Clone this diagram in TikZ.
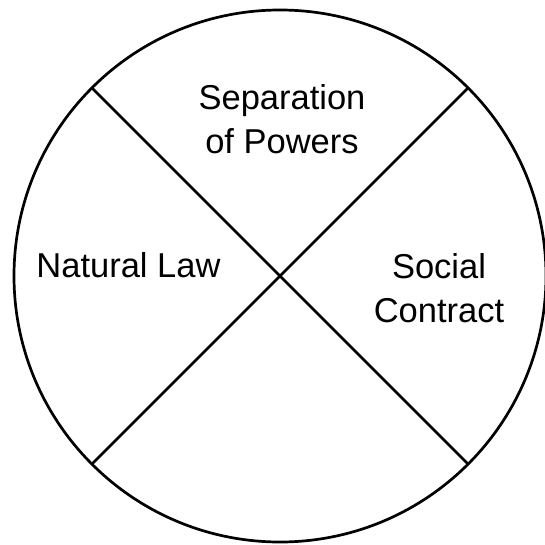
\documentclass[tikz,border=0pt]{standalone}
\usepackage{fontspec}
\setmainfont{Liberation Sans}
\begin{document}
\begin{tikzpicture}[x=1pt,y=-1pt,
  outline/.style={line width=2.7pt,black},
  lbl/.style={font=\fontsize{34.5}{44}\selectfont,align=center,inner sep=0pt,anchor=base}]
\useasboundingbox (0,0) rectangle (545,545);
\coordinate (c) at (280,276);
\draw[outline] (c) circle[radius=266];
\path (c) ++(-188.1,-188.1) coordinate (ul)
      (c) ++(188.1,-188.1) coordinate (ur)
      (c) ++(-188.1,188.1) coordinate (ll)
      (c) ++(188.1,188.1) coordinate (lr);
\draw[outline] (ul) -- (lr);
\draw[outline] (ur) -- (ll);
\node[lbl] (sep) at (282,154) {Separation\\of Powers};
\node[lbl] (nat) at (128.5,277) {Natural Law};
\node[lbl] (soc) at (439,322) {Social\\Contract};
\end{tikzpicture}
\end{document}
